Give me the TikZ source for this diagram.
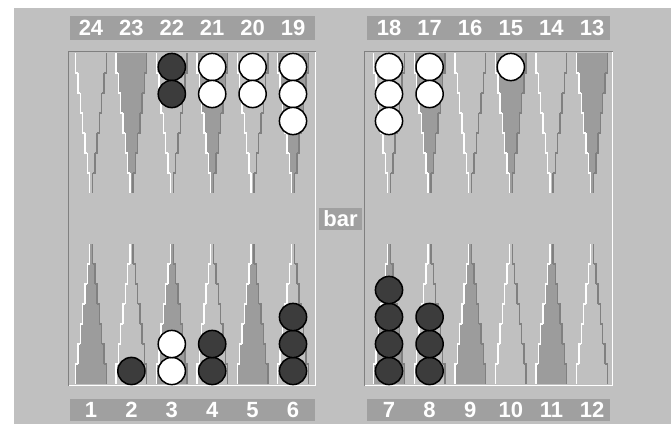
\documentclass[tikz,border=0pt]{standalone}
\usepackage{fontspec}
\setmainfont{Liberation Sans}
\definecolor{bg}{RGB}{192,192,192}
\definecolor{ptdark}{RGB}{156,156,156}
\definecolor{edgedark}{RGB}{128,128,128}
\definecolor{strip}{RGB}{160,160,160}
\definecolor{chkdark}{RGB}{60,60,60}
\tikzset{
  numlabel/.style={text=white, font=\fontsize{22}{22}\selectfont\bfseries, inner sep=0pt, anchor=center},
  darkchk/.style={fill=chkdark, draw=black, line width=1.5},
  whitechk/.style={fill=white, draw=black, line width=1.5},
  stepline/.style={line width=1.4, line join=miter},
}
% #1 cx, #2 base y, #3 dir, #4 fill
\newcommand\drawpoint[4]{%
  \foreach \i in {0,...,6}{%
    \pgfmathsetmacro\w{16-2.3*\i}%
    \pgfmathsetmacro\wn{\i<6 ? 16-2.3*(\i+1) : 16-2.3*\i}%
    \pgfmathsetmacro\ya{#2+#3*20*\i}%
    \pgfmathsetmacro\yb{#2+#3*20*(\i+1)}%
    \fill[#4] (#1-\w,\ya) rectangle (#1+\w,\yb);
    \draw[white, stepline] (#1-\w+0.7,\ya) -- (#1-\w+0.7,\yb) -- (#1-\wn+0.7,\yb);
    \draw[edgedark, stepline] (#1+\w-0.7,\ya) -- (#1+\w-0.7,\yb) -- (#1+\wn-0.7,\yb);
  }%
}
\newcommand\chk[3]{% #1 x, #2 y, #3 style
  \path[#3] (#1,#2) circle (13.6);
}
\begin{document}
\begin{tikzpicture}[x=1pt,y=-1pt]
\useasboundingbox (0,0) rectangle (671,424);
\fill[white] (0,0) rectangle (671,424);
\fill[bg] (14,8) rectangle (671,424);
% label strips
\fill[strip] (70,16) rectangle (315,40);
\fill[strip] (367,16) rectangle (610,40);
\fill[strip] (70,399) rectangle (315,421);
\fill[strip] (367,399) rectangle (610,421);
\fill[strip] (319,208) rectangle (362,230);
\node[numlabel] (bar) at (340.5,219) {bar};
% points
\foreach \x [count=\k] in {91,131.4,171.8,212.2,252.6,293,389,429.6,470.2,510.8,551.4,592}{%
  \pgfmathsetmacro\isdark{mod(\k,2)==0 ? 1 : 0}%
  \ifdim\isdark pt>0.5pt
    \drawpoint{\x}{53}{1}{ptdark}
    \drawpoint{\x}{384}{-1}{bg}
  \else
    \drawpoint{\x}{53}{1}{bg}
    \drawpoint{\x}{384}{-1}{ptdark}
  \fi
}
% frames
\draw[edgedark, line width=1.5] (68.5,386) -- (68.5,51.5) -- (316,51.5);
\draw[white, line width=1.5] (68.5,385.5) -- (315.5,385.5) -- (315.5,51.5);
\draw[edgedark, line width=1.5] (364.5,386) -- (364.5,51.5) -- (613,51.5);
\draw[white, line width=1.5] (364.5,385.5) -- (612.5,385.5) -- (612.5,51.5);
% numbers
\foreach \x/\n in {91/24,131.4/23,171.8/22,212.2/21,252.6/20,293/19,389/18,429.6/17,470.2/16,510.8/15,551.4/14,592/13}{%
  \node[numlabel] (t\n) at (\x,28) {\n};
}
\foreach \x/\n in {91/1,131.4/2,171.8/3,212.2/4,252.6/5,293/6,389/7,429.6/8,470.2/9,510.8/10,551.4/11,592/12}{%
  \node[numlabel] (b\n) at (\x,410) {\n};
}
% top checkers
\chk{171.8}{67}{darkchk}\chk{171.8}{94}{darkchk}
\chk{212.2}{67}{whitechk}\chk{212.2}{94}{whitechk}
\chk{252.6}{67}{whitechk}\chk{252.6}{94}{whitechk}
\chk{293}{67}{whitechk}\chk{293}{94}{whitechk}\chk{293}{121}{whitechk}
\chk{389}{67}{whitechk}\chk{389}{94}{whitechk}\chk{389}{121}{whitechk}
\chk{429.6}{67}{whitechk}\chk{429.6}{94}{whitechk}
\chk{510.8}{67}{whitechk}
% bottom checkers
\chk{131.4}{371}{darkchk}
\chk{171.8}{371}{whitechk}\chk{171.8}{344}{whitechk}
\chk{212.2}{371}{darkchk}\chk{212.2}{344}{darkchk}
\chk{293}{371}{darkchk}\chk{293}{344}{darkchk}\chk{293}{317}{darkchk}
\chk{389}{371}{darkchk}\chk{389}{344}{darkchk}\chk{389}{317}{darkchk}\chk{389}{290}{darkchk}
\chk{429.6}{371}{darkchk}\chk{429.6}{344}{darkchk}\chk{429.6}{317}{darkchk}
\end{tikzpicture}
\end{document}
